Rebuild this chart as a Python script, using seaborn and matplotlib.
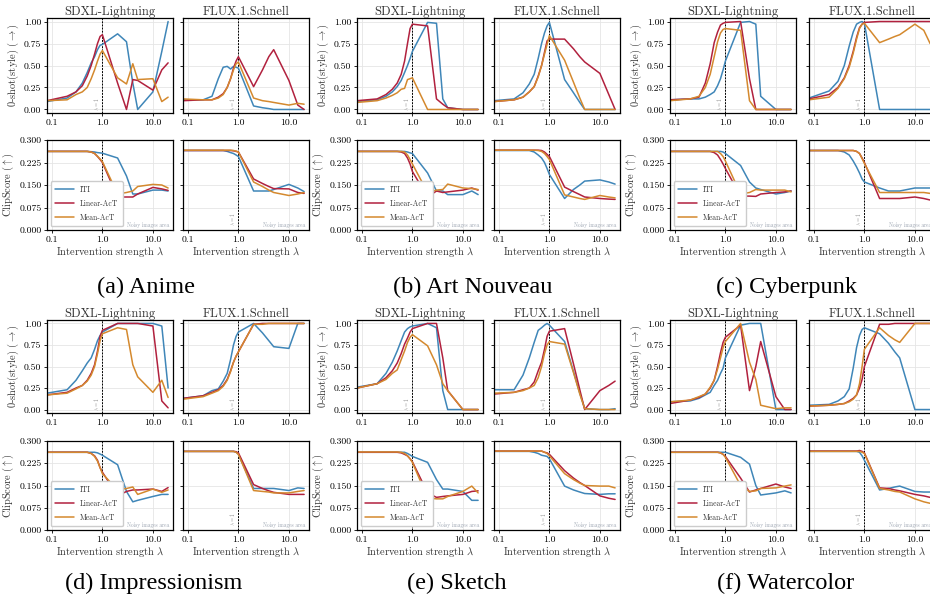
import matplotlib
matplotlib.use("Agg")
import pandas as pd
import matplotlib.pyplot as plt
import matplotlib.transforms as mtransforms
from matplotlib.ticker import FixedLocator, NullLocator
import seaborn as sns

# intervention strengths (shared x for every curve)
lambdas = [0.08, 0.2, 0.3, 0.4, 0.5, 0.6, 0.7, 0.8, 0.9, 1.0, 2.0, 3.0, 4.0, 5.0, 10.0, 15.0, 20.0]
methods = ["ITI", "Linear-AcT", "Mean-AcT"]
colors = ["#3f86b8", "#b1213e", "#d4892e"]
models = ["SDXL-Lightning", "FLUX.1.Schnell"]
captions = ["(a) Anime", "(b) Art Nouveau", "(c) Cyberpunk",
            "(d) Impressionism", "(e) Sketch", "(f) Watercolor"]
x_ticks = [0.1, 1.0, 10.0]
x_tick_labels = ["0.1", "1.0", "10.0"]
style_ticks = [0.0, 0.25, 0.5, 0.75, 1.0]
style_tick_labels = ["0.00", "0.25", "0.50", "0.75", "1.00"]
clip_ticks = [0.0, 0.075, 0.15, 0.225, 0.3]
clip_tick_labels = ["0.000", "0.075", "0.150", "0.225", "0.300"]

# ---- (a) Anime
anime_sdxl_style = {
    "ITI":        [0.09, 0.13, 0.20, 0.30, 0.42, 0.53, 0.60, 0.68, 0.73, 0.74, 0.86, 0.77, 0.30, 0.00, 0.20, 0.66, 1.00],
    "Linear-AcT": [0.10, 0.15, 0.20, 0.27, 0.38, 0.50, 0.63, 0.75, 0.83, 0.85, 0.30, 0.00, 0.34, 0.33, 0.22, 0.45, 0.53],
    "Mean-AcT":   [0.10, 0.11, 0.17, 0.20, 0.25, 0.35, 0.45, 0.55, 0.63, 0.67, 0.36, 0.29, 0.52, 0.34, 0.35, 0.09, 0.14],
}
anime_flux_style = {
    "ITI":        [0.11, 0.11, 0.15, 0.35, 0.48, 0.49, 0.46, 0.49, 0.48, 0.47, 0.04, 0.02, 0.01, 0.00, 0.00, 0.00, 0.00],
    "Linear-AcT": [0.10, 0.11, 0.11, 0.14, 0.18, 0.25, 0.35, 0.47, 0.55, 0.60, 0.26, 0.45, 0.60, 0.68, 0.33, 0.05, 0.00],
    "Mean-AcT":   [0.12, 0.11, 0.11, 0.13, 0.17, 0.25, 0.35, 0.45, 0.52, 0.54, 0.13, 0.10, 0.09, 0.08, 0.05, 0.07, 0.06],
}
anime_sdxl_clip = {
    "ITI":        [0.262, 0.262, 0.262, 0.262, 0.262, 0.261, 0.260, 0.258, 0.257, 0.256, 0.240, 0.180, 0.120, 0.120, 0.133, 0.133, 0.130],
    "Linear-AcT": [0.262, 0.262, 0.262, 0.262, 0.262, 0.260, 0.255, 0.245, 0.235, 0.225, 0.110, 0.110, 0.110, 0.120, 0.142, 0.137, 0.132],
    "Mean-AcT":   [0.262, 0.262, 0.262, 0.262, 0.262, 0.260, 0.255, 0.246, 0.237, 0.228, 0.120, 0.125, 0.130, 0.145, 0.152, 0.150, 0.140],
}
anime_flux_clip = {
    "ITI":        [0.265, 0.265, 0.265, 0.265, 0.265, 0.262, 0.258, 0.255, 0.250, 0.245, 0.130, 0.130, 0.130, 0.135, 0.152, 0.140, 0.128],
    "Linear-AcT": [0.265, 0.265, 0.265, 0.265, 0.265, 0.265, 0.265, 0.264, 0.262, 0.260, 0.170, 0.155, 0.145, 0.138, 0.137, 0.125, 0.122],
    "Mean-AcT":   [0.266, 0.266, 0.266, 0.266, 0.266, 0.266, 0.266, 0.265, 0.263, 0.260, 0.160, 0.145, 0.133, 0.125, 0.115, 0.120, 0.125],
}

# ---- (b) Art Nouveau
nouveau_sdxl_style = {
    "ITI":        [0.09, 0.11, 0.15, 0.20, 0.26, 0.33, 0.42, 0.50, 0.58, 0.66, 0.99, 0.98, 0.12, 0.02, 0.00, 0.00, 0.00],
    "Linear-AcT": [0.10, 0.12, 0.17, 0.23, 0.30, 0.40, 0.55, 0.75, 0.92, 0.97, 0.95, 0.12, 0.06, 0.02, 0.00, 0.00, 0.00],
    "Mean-AcT":   [0.08, 0.10, 0.13, 0.16, 0.19, 0.23, 0.24, 0.34, 0.35, 0.36, 0.00, 0.00, 0.00, 0.00, 0.00, 0.00, 0.00],
}
nouveau_flux_style = {
    "ITI":        [0.10, 0.12, 0.19, 0.29, 0.40, 0.58, 0.75, 0.87, 0.95, 0.99, 0.34, 0.19, 0.08, 0.00, 0.00, 0.00, 0.00],
    "Linear-AcT": [0.09, 0.11, 0.14, 0.20, 0.26, 0.38, 0.50, 0.65, 0.78, 0.80, 0.80, 0.69, 0.60, 0.54, 0.41, 0.17, 0.00],
    "Mean-AcT":   [0.09, 0.11, 0.14, 0.20, 0.26, 0.37, 0.50, 0.63, 0.74, 0.84, 0.56, 0.31, 0.13, 0.00, 0.00, 0.00, 0.00],
}
nouveau_sdxl_clip = {
    "ITI":        [0.262, 0.262, 0.262, 0.262, 0.262, 0.262, 0.262, 0.260, 0.257, 0.255, 0.190, 0.130, 0.130, 0.118, 0.118, 0.130, 0.118],
    "Linear-AcT": [0.262, 0.262, 0.262, 0.262, 0.262, 0.260, 0.255, 0.240, 0.220, 0.195, 0.110, 0.130, 0.125, 0.127, 0.133, 0.140, 0.133],
    "Mean-AcT":   [0.262, 0.262, 0.262, 0.262, 0.262, 0.262, 0.260, 0.250, 0.235, 0.220, 0.125, 0.133, 0.135, 0.153, 0.140, 0.138, 0.135],
}
nouveau_flux_clip = {
    "ITI":        [0.265, 0.265, 0.265, 0.265, 0.260, 0.250, 0.240, 0.225, 0.205, 0.185, 0.105, 0.135, 0.150, 0.163, 0.167, 0.160, 0.153],
    "Linear-AcT": [0.266, 0.266, 0.266, 0.266, 0.266, 0.266, 0.265, 0.260, 0.252, 0.245, 0.143, 0.128, 0.118, 0.110, 0.105, 0.103, 0.102],
    "Mean-AcT":   [0.266, 0.266, 0.266, 0.266, 0.266, 0.265, 0.262, 0.255, 0.245, 0.235, 0.117, 0.110, 0.105, 0.102, 0.115, 0.110, 0.107],
}

# ---- (c) Cyberpunk
cyber_sdxl_style = {
    "ITI":        [0.11, 0.12, 0.12, 0.14, 0.17, 0.20, 0.27, 0.35, 0.45, 0.55, 0.99, 1.00, 0.97, 0.15, 0.00, 0.00, 0.00],
    "Linear-AcT": [0.11, 0.12, 0.14, 0.30, 0.52, 0.76, 0.88, 0.96, 0.98, 0.99, 1.00, 0.35, 0.00, 0.00, 0.00, 0.00, 0.00],
    "Mean-AcT":   [0.10, 0.12, 0.15, 0.25, 0.40, 0.60, 0.77, 0.87, 0.91, 0.92, 0.90, 0.10, 0.00, 0.00, 0.00, 0.00, 0.00],
}
cyber_flux_style = {
    "ITI":        [0.13, 0.21, 0.32, 0.50, 0.72, 0.88, 0.97, 0.99, 1.00, 0.98, 0.00, 0.00, 0.00, 0.00, 0.00, 0.00, 0.00],
    "Linear-AcT": [0.12, 0.17, 0.25, 0.36, 0.50, 0.66, 0.82, 0.93, 0.97, 0.99, 1.00, 1.00, 1.00, 1.00, 1.00, 1.00, 1.00],
    "Mean-AcT":   [0.11, 0.14, 0.24, 0.35, 0.48, 0.64, 0.80, 0.92, 0.97, 0.98, 0.76, 0.80, 0.83, 0.85, 0.97, 0.90, 0.75],
}
cyber_sdxl_clip = {
    "ITI":        [0.262, 0.262, 0.262, 0.262, 0.262, 0.262, 0.262, 0.262, 0.260, 0.255, 0.215, 0.160, 0.140, 0.135, 0.120, 0.125, 0.130],
    "Linear-AcT": [0.262, 0.262, 0.262, 0.262, 0.262, 0.258, 0.250, 0.235, 0.220, 0.205, 0.113, 0.113, 0.112, 0.120, 0.125, 0.127, 0.130],
    "Mean-AcT":   [0.262, 0.262, 0.262, 0.262, 0.262, 0.262, 0.262, 0.255, 0.245, 0.230, 0.120, 0.125, 0.135, 0.133, 0.133, 0.133, 0.127],
}
cyber_flux_clip = {
    "ITI":        [0.265, 0.265, 0.265, 0.260, 0.250, 0.230, 0.210, 0.190, 0.170, 0.160, 0.140, 0.130, 0.130, 0.130, 0.140, 0.140, 0.140],
    "Linear-AcT": [0.265, 0.265, 0.265, 0.265, 0.265, 0.265, 0.262, 0.255, 0.240, 0.225, 0.105, 0.105, 0.105, 0.105, 0.110, 0.105, 0.100],
    "Mean-AcT":   [0.265, 0.265, 0.265, 0.265, 0.265, 0.265, 0.262, 0.255, 0.238, 0.222, 0.125, 0.125, 0.125, 0.125, 0.125, 0.125, 0.122],
}

# ---- (d) Impressionism
impr_sdxl_style = {
    "ITI":        [0.19, 0.23, 0.34, 0.45, 0.54, 0.60, 0.70, 0.80, 0.86, 0.90, 1.00, 1.00, 1.00, 1.00, 1.00, 0.97, 0.25],
    "Linear-AcT": [0.17, 0.20, 0.25, 0.28, 0.34, 0.42, 0.52, 0.68, 0.85, 0.92, 1.00, 1.00, 1.00, 1.00, 0.97, 0.10, 0.02],
    "Mean-AcT":   [0.17, 0.19, 0.24, 0.28, 0.33, 0.40, 0.50, 0.65, 0.80, 0.88, 0.95, 0.93, 0.52, 0.38, 0.20, 0.34, 0.14],
}
impr_flux_style = {
    "ITI":        [0.13, 0.16, 0.22, 0.24, 0.33, 0.42, 0.58, 0.75, 0.85, 0.90, 1.00, 0.89, 0.80, 0.73, 0.71, 1.00, 1.00],
    "Linear-AcT": [0.13, 0.16, 0.20, 0.23, 0.28, 0.35, 0.45, 0.55, 0.62, 0.67, 0.99, 1.00, 1.00, 1.00, 1.00, 1.00, 1.00],
    "Mean-AcT":   [0.12, 0.15, 0.19, 0.22, 0.27, 0.34, 0.44, 0.55, 0.62, 0.67, 0.99, 0.99, 1.00, 1.00, 1.00, 1.00, 1.00],
}
impr_sdxl_clip = {
    "ITI":        [0.262, 0.262, 0.262, 0.262, 0.262, 0.262, 0.262, 0.260, 0.256, 0.252, 0.220, 0.130, 0.095, 0.100, 0.113, 0.120, 0.120],
    "Linear-AcT": [0.262, 0.262, 0.262, 0.262, 0.262, 0.258, 0.250, 0.235, 0.210, 0.195, 0.115, 0.130, 0.135, 0.135, 0.138, 0.130, 0.143],
    "Mean-AcT":   [0.262, 0.262, 0.262, 0.262, 0.262, 0.258, 0.248, 0.232, 0.210, 0.190, 0.135, 0.140, 0.145, 0.120, 0.138, 0.127, 0.135],
}
impr_flux_clip = {
    "ITI":        [0.265, 0.265, 0.265, 0.265, 0.265, 0.265, 0.265, 0.265, 0.263, 0.255, 0.140, 0.140, 0.140, 0.140, 0.133, 0.142, 0.140],
    "Linear-AcT": [0.265, 0.265, 0.265, 0.265, 0.265, 0.265, 0.265, 0.265, 0.264, 0.260, 0.153, 0.140, 0.132, 0.127, 0.120, 0.120, 0.120],
    "Mean-AcT":   [0.265, 0.265, 0.265, 0.265, 0.265, 0.265, 0.265, 0.265, 0.262, 0.255, 0.133, 0.130, 0.128, 0.125, 0.125, 0.130, 0.133],
}

# ---- (e) Sketch
sketch_sdxl_style = {
    "ITI":        [0.26, 0.30, 0.42, 0.55, 0.68, 0.80, 0.90, 0.94, 0.96, 0.97, 1.00, 0.95, 0.22, 0.00, 0.00, 0.00, 0.00],
    "Linear-AcT": [0.25, 0.30, 0.37, 0.45, 0.54, 0.65, 0.76, 0.83, 0.90, 0.94, 1.00, 1.00, 0.60, 0.22, 0.00, 0.00, 0.00],
    "Mean-AcT":   [0.25, 0.30, 0.35, 0.42, 0.46, 0.58, 0.68, 0.78, 0.84, 0.87, 0.74, 0.52, 0.30, 0.22, 0.00, 0.00, 0.00],
}
sketch_flux_style = {
    "ITI":        [0.23, 0.23, 0.40, 0.60, 0.78, 0.92, 0.95, 0.98, 1.00, 0.98, 0.79, 0.44, 0.19, 0.01, 0.00, 0.00, 0.01],
    "Linear-AcT": [0.18, 0.20, 0.23, 0.25, 0.32, 0.45, 0.55, 0.70, 0.85, 0.91, 0.94, 0.53, 0.23, 0.00, 0.22, 0.28, 0.33],
    "Mean-AcT":   [0.19, 0.20, 0.22, 0.25, 0.28, 0.37, 0.50, 0.65, 0.75, 0.79, 0.76, 0.43, 0.18, 0.01, 0.00, 0.00, 0.00],
}
sketch_sdxl_clip = {
    "ITI":        [0.262, 0.262, 0.262, 0.262, 0.262, 0.262, 0.262, 0.258, 0.253, 0.248, 0.228, 0.170, 0.138, 0.138, 0.130, 0.100, 0.100],
    "Linear-AcT": [0.262, 0.262, 0.262, 0.262, 0.262, 0.260, 0.255, 0.250, 0.240, 0.230, 0.125, 0.110, 0.113, 0.115, 0.120, 0.130, 0.132],
    "Mean-AcT":   [0.263, 0.263, 0.263, 0.263, 0.263, 0.262, 0.258, 0.250, 0.240, 0.228, 0.108, 0.105, 0.105, 0.113, 0.130, 0.148, 0.125],
}
sketch_flux_clip = {
    "ITI":        [0.265, 0.265, 0.265, 0.265, 0.262, 0.258, 0.252, 0.250, 0.248, 0.240, 0.148, 0.135, 0.128, 0.123, 0.120, 0.122, 0.122],
    "Linear-AcT": [0.266, 0.266, 0.266, 0.266, 0.266, 0.266, 0.266, 0.262, 0.260, 0.255, 0.200, 0.175, 0.160, 0.150, 0.115, 0.107, 0.103],
    "Mean-AcT":   [0.266, 0.266, 0.266, 0.266, 0.266, 0.266, 0.266, 0.262, 0.258, 0.250, 0.190, 0.170, 0.158, 0.150, 0.148, 0.148, 0.142],
}

# ---- (f) Watercolor
water_sdxl_style = {
    "ITI":        [0.09, 0.10, 0.13, 0.17, 0.20, 0.28, 0.34, 0.42, 0.48, 0.60, 0.98, 1.00, 1.00, 1.00, 0.00, 0.00, 0.00],
    "Linear-AcT": [0.07, 0.11, 0.14, 0.18, 0.25, 0.34, 0.50, 0.66, 0.78, 0.84, 0.98, 0.22, 0.50, 0.79, 0.15, 0.00, 0.00],
    "Mean-AcT":   [0.09, 0.11, 0.15, 0.18, 0.26, 0.34, 0.47, 0.60, 0.72, 0.79, 1.00, 0.55, 0.35, 0.05, 0.01, 0.02, 0.02],
}
water_flux_style = {
    "ITI":        [0.05, 0.06, 0.10, 0.15, 0.24, 0.48, 0.72, 0.86, 0.93, 0.95, 0.88, 0.77, 0.67, 0.60, 0.00, 0.00, 0.00],
    "Linear-AcT": [0.04, 0.05, 0.06, 0.07, 0.10, 0.13, 0.17, 0.25, 0.35, 0.50, 0.99, 0.99, 1.00, 1.00, 1.00, 1.00, 1.00],
    "Mean-AcT":   [0.04, 0.05, 0.06, 0.07, 0.09, 0.12, 0.17, 0.30, 0.50, 0.70, 0.95, 0.86, 0.81, 0.78, 1.00, 1.00, 1.00],
}
water_sdxl_clip = {
    "ITI":        [0.262, 0.262, 0.262, 0.262, 0.262, 0.262, 0.262, 0.262, 0.262, 0.262, 0.245, 0.222, 0.150, 0.118, 0.125, 0.132, 0.125],
    "Linear-AcT": [0.262, 0.262, 0.262, 0.262, 0.262, 0.262, 0.262, 0.260, 0.255, 0.248, 0.175, 0.128, 0.135, 0.140, 0.155, 0.145, 0.140],
    "Mean-AcT":   [0.262, 0.262, 0.262, 0.262, 0.262, 0.262, 0.262, 0.260, 0.255, 0.245, 0.150, 0.130, 0.132, 0.140, 0.142, 0.148, 0.152],
}
water_flux_clip = {
    "ITI":        [0.265, 0.265, 0.265, 0.265, 0.265, 0.265, 0.265, 0.262, 0.250, 0.235, 0.135, 0.140, 0.145, 0.148, 0.130, 0.128, 0.128],
    "Linear-AcT": [0.266, 0.266, 0.266, 0.266, 0.266, 0.266, 0.266, 0.268, 0.265, 0.260, 0.142, 0.140, 0.135, 0.132, 0.120, 0.115, 0.110],
    "Mean-AcT":   [0.265, 0.265, 0.265, 0.265, 0.265, 0.265, 0.265, 0.265, 0.262, 0.258, 0.140, 0.135, 0.130, 0.128, 0.105, 0.095, 0.090],
}

panels = [
    (anime_sdxl_style, anime_flux_style, anime_sdxl_clip, anime_flux_clip),
    (nouveau_sdxl_style, nouveau_flux_style, nouveau_sdxl_clip, nouveau_flux_clip),
    (cyber_sdxl_style, cyber_flux_style, cyber_sdxl_clip, cyber_flux_clip),
    (impr_sdxl_style, impr_flux_style, impr_sdxl_clip, impr_flux_clip),
    (sketch_sdxl_style, sketch_flux_style, sketch_sdxl_clip, sketch_flux_clip),
    (water_sdxl_style, water_flux_style, water_sdxl_clip, water_flux_clip),
]

sns.set_style("whitegrid")
plt.rcParams.update({
    "font.family": "serif",
    "font.serif": ["cmr10"],
    "mathtext.fontset": "cm",
    "axes.formatter.use_mathtext": True,
    "axes.edgecolor": "black",
    "axes.linewidth": 0.9,
    "grid.color": "#e5e5e5",
    "grid.linewidth": 0.6,
    "xtick.bottom": True,
    "ytick.left": True,
    "xtick.major.size": 2.5,
    "ytick.major.size": 2.5,
    "xtick.major.width": 0.6,
    "ytick.major.width": 0.6,
    "xtick.color": "black",
    "ytick.color": "black",
    "text.color": "#333333",
    "axes.labelcolor": "#333333",
})

W, H = 930, 604
fig = plt.figure(figsize=(W / 100, H / 100), dpi=100)


def px_axes(left, top, width, height):
    return fig.add_axes([left / W, 1 - (top + height) / H, width / W, height / H])


def long_frame(series):
    rows = []
    for m in methods:
        for lam, v in zip(lambdas, series[m]):
            rows.append({"lambda": lam, "score": v, "method": m})
    return pd.DataFrame(rows)


col_left = [(47, 183), (357, 494), (670, 809)]
block_rows = [(18, 95, 140, 90), (320, 93, 441, 89)]
caption_x = [146, 473, 786, 154, 457, 786]
caption_y = [287, 583]
ax_w = 126

for i, data in enumerate(panels):
    r, c = divmod(i, 3)
    top_y, top_h, bot_y, bot_h = block_rows[r]
    for j in range(2):
        for k in range(2):
            series = data[k * 2 + j]
            if k == 0:
                ax = px_axes(col_left[c][j], top_y, ax_w, top_h)
            else:
                ax = px_axes(col_left[c][j], bot_y, ax_w, bot_h)
            show_leg = (k == 1 and j == 0)
            sns.lineplot(data=long_frame(series), x="lambda", y="score", hue="method",
                         hue_order=methods, palette=colors, linewidth=1.1,
                         estimator=None, ax=ax, legend=show_leg)
            ax.set_xscale("log")
            ax.set_xlim(0.08, 25)
            ax.xaxis.set_major_locator(FixedLocator(x_ticks))
            ax.xaxis.set_minor_locator(NullLocator())
            ax.set_xticklabels(x_tick_labels, fontsize=7)
            ax.axvline(1.0, color="black", lw=0.7, ls=(0, (2, 1.2)), zorder=1)
            trans = mtransforms.blended_transform_factory(ax.transData, ax.transAxes)
            if k == 0:
                ax.set_ylim(-0.04, 1.04)
                ax.set_yticks(style_ticks)
                ax.set_title(models[j], fontsize=9, pad=2)
                ax.set_xlabel("")
                ylab = r"0-shot(style) $(\rightarrow)$"
                tick_labels = style_tick_labels
            else:
                ax.set_ylim(0.0, 0.3)
                ax.set_yticks(clip_ticks)
                ax.set_xlabel(r"Intervention strength $\lambda$", fontsize=7.5, labelpad=1)
                ylab = r"ClipScore $(\uparrow)$"
                tick_labels = clip_tick_labels
                ax.text(0.97, 0.02, "Noisy images area", transform=ax.transAxes,
                        ha="right", va="bottom", fontsize=3.8, color="#9aa3b0")
            if j == 0:
                ax.set_yticklabels(tick_labels, fontsize=7)
                ax.set_ylabel(ylab, fontsize=7.5, labelpad=2)
            else:
                ax.set_yticklabels([])
                ax.set_ylabel("")
            if not show_leg:
                ax.text(0.93, 0.05 if k == 1 else 0.02, r"$\lambda=1$", transform=trans,
                        rotation=90, ha="right", va="bottom", fontsize=3.8, color="#888888")
            else:
                handles, labels = ax.get_legend_handles_labels()
                ax.legend(handles, labels, loc="lower left", fontsize=5.5,
                          frameon=True, framealpha=1, edgecolor="#cccccc",
                          handlelength=2.4, borderpad=0.6, labelspacing=0.7)
            ax.tick_params(axis="both", pad=1.5)

for i, cap in enumerate(captions):
    r, c = divmod(i, 3)
    fig.text(caption_x[i] / W, 1 - caption_y[r] / H, cap, ha="center", va="center",
             fontsize=17.5, family="Liberation Serif", color="black")

fig.savefig("out.png", dpi=100)
